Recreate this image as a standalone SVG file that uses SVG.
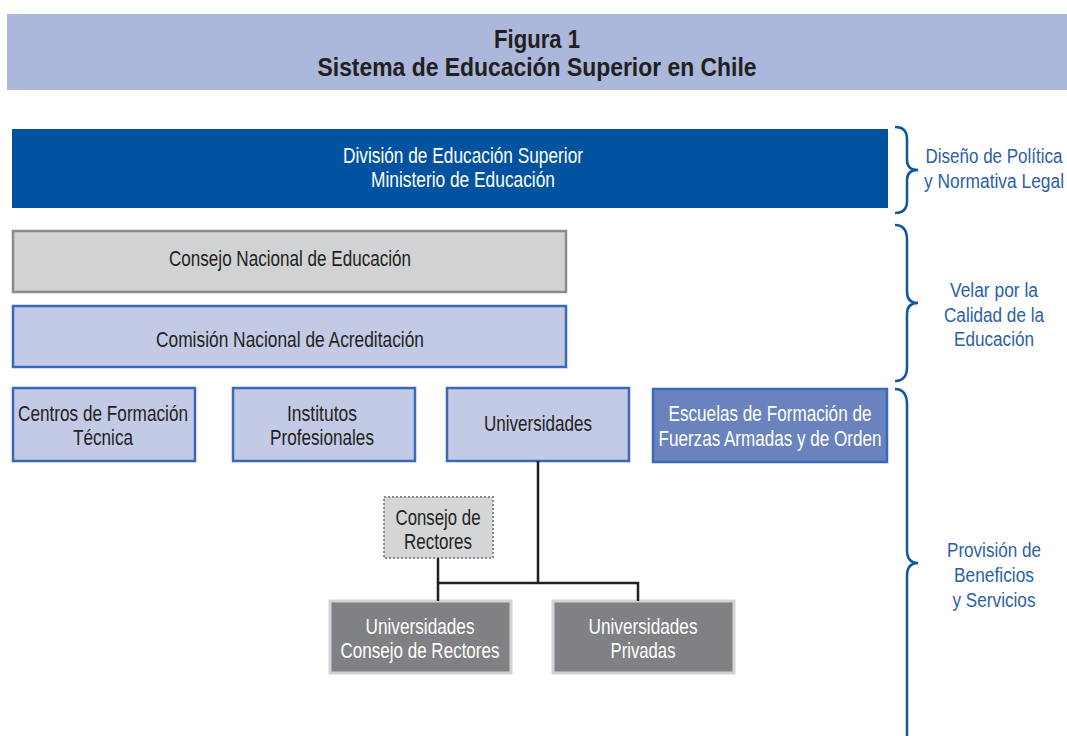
<svg xmlns="http://www.w3.org/2000/svg" width="1067" height="736" viewBox="0 0 1067 736">
<style>
text{font-family:"Liberation Sans",Arial,sans-serif;text-anchor:middle;font-size:22.5px}
.dk{fill:#231f20}
.wh{fill:#ffffff}
.bl{fill:#2b5fa8;font-size:20px}
.title{font-weight:bold;font-size:26px;fill:#231f20}
.light{fill:#c3cae6;stroke:#3a6ab5;stroke-width:2.5}
.gray{fill:#808184;stroke:#d3d3d5;stroke-width:3}
.brace{fill:none;stroke:#0d56a0;stroke-width:2.5}
.conn{fill:none;stroke:#231f20;stroke-width:2.5}
</style>
<rect x="7" y="14" width="1060" height="76" fill="#abb7db"/>
<text class="title" x="537" y="48" textLength="86" lengthAdjust="spacingAndGlyphs">Figura 1</text>
<text class="title" x="537" y="76" textLength="439" lengthAdjust="spacingAndGlyphs">Sistema de Educación Superior en Chile</text>

<g id="division">
<rect x="12" y="129" width="876" height="79" fill="#02539f"/>
<text class="wh" x="463" y="163" textLength="240" lengthAdjust="spacingAndGlyphs">División de Educación Superior</text>
<text class="wh" x="463" y="187" textLength="184" lengthAdjust="spacingAndGlyphs">Ministerio de Educación</text>
</g>
<g id="cne">
<rect x="13" y="231" width="553" height="61" fill="#d1d2d4" stroke="#8b8b8d" stroke-width="2.5"/>
<text class="dk" x="290" y="266" textLength="242" lengthAdjust="spacingAndGlyphs">Consejo Nacional de Educación</text>
</g>
<g id="cna">
<rect class="light" x="13" y="306" width="553" height="61"/>
<text class="dk" x="290" y="347" textLength="268" lengthAdjust="spacingAndGlyphs">Comisión Nacional de Acreditación</text>
</g>
<g id="cft">
<rect class="light" x="13" y="388" width="182" height="73"/>
<text class="dk" x="103" y="421" textLength="170" lengthAdjust="spacingAndGlyphs">Centros de Formación</text>
<text class="dk" x="103" y="445" textLength="60" lengthAdjust="spacingAndGlyphs">Técnica</text>
</g>
<g id="ip">
<rect class="light" x="233" y="388" width="182" height="73"/>
<text class="dk" x="322" y="421" textLength="70" lengthAdjust="spacingAndGlyphs">Institutos</text>
<text class="dk" x="322" y="445" textLength="104" lengthAdjust="spacingAndGlyphs">Profesionales</text>
</g>
<g id="univ">
<rect class="light" x="447" y="388" width="182" height="73"/>
<text class="dk" x="538" y="431" textLength="108" lengthAdjust="spacingAndGlyphs">Universidades</text>
</g>
<g id="escuelas">
<rect x="653" y="389" width="234" height="73" fill="#6a83be" stroke="#3a6ab5" stroke-width="2.5"/>
<text class="wh" x="770" y="421" textLength="203" lengthAdjust="spacingAndGlyphs">Escuelas de Formación de</text>
<text class="wh" x="770" y="446" textLength="223" lengthAdjust="spacingAndGlyphs">Fuerzas Armadas y de Orden</text>
</g>
<g id="cruch">
<rect x="384" y="497" width="109" height="61" fill="#d4d5d7" stroke="#8b8b8d" stroke-width="2" stroke-dasharray="2,2"/>
<text class="dk" x="438" y="525" textLength="85" lengthAdjust="spacingAndGlyphs">Consejo de</text>
<text class="dk" x="438" y="549" textLength="68" lengthAdjust="spacingAndGlyphs">Rectores</text>
</g>
<g id="ucr">
<rect class="gray" x="330" y="601" width="181" height="72"/>
<text class="wh" x="420" y="634" textLength="109" lengthAdjust="spacingAndGlyphs">Universidades</text>
<text class="wh" x="420" y="658" textLength="159" lengthAdjust="spacingAndGlyphs">Consejo de Rectores</text>
</g>
<g id="upriv">
<rect class="gray" x="553" y="601" width="181" height="72"/>
<text class="wh" x="643" y="634" textLength="109" lengthAdjust="spacingAndGlyphs">Universidades</text>
<text class="wh" x="643" y="658" textLength="65" lengthAdjust="spacingAndGlyphs">Privadas</text>
</g>
<g id="connectors">
<path class="conn" d="M538 461 V583 M438 558 V601 M438 583 H638 V601"/>
</g>
<g id="braces">
<path class="brace" d="M895 127 Q907 127 907 139 V160 Q907 170 918 170 Q907 170 907 180 V201 Q907 213 895 213"/>
<path class="brace" d="M895 225 Q907 225 907 240 V292 Q907 303 918 303 Q907 303 907 314 V367 Q907 381 895 381"/>
<path class="brace" d="M895 389 Q907 389 907 405 V550 Q907 563 918 563 Q907 563 907 576 V736"/>
</g>
<g id="labels">
<text class="bl" x="994" y="163" textLength="137" lengthAdjust="spacingAndGlyphs">Diseño de Política</text>
<text class="bl" x="994" y="188" textLength="140" lengthAdjust="spacingAndGlyphs">y Normativa Legal</text>
<text class="bl" x="994" y="297" textLength="88" lengthAdjust="spacingAndGlyphs">Velar por la</text>
<text class="bl" x="994" y="322" textLength="100" lengthAdjust="spacingAndGlyphs">Calidad de la</text>
<text class="bl" x="994" y="346" textLength="80" lengthAdjust="spacingAndGlyphs">Educación</text>
<text class="bl" x="994" y="557" textLength="94" lengthAdjust="spacingAndGlyphs">Provisión de</text>
<text class="bl" x="994" y="582" textLength="80" lengthAdjust="spacingAndGlyphs">Beneficios</text>
<text class="bl" x="994" y="607" textLength="83" lengthAdjust="spacingAndGlyphs">y Servicios</text>
</g>
</svg>
